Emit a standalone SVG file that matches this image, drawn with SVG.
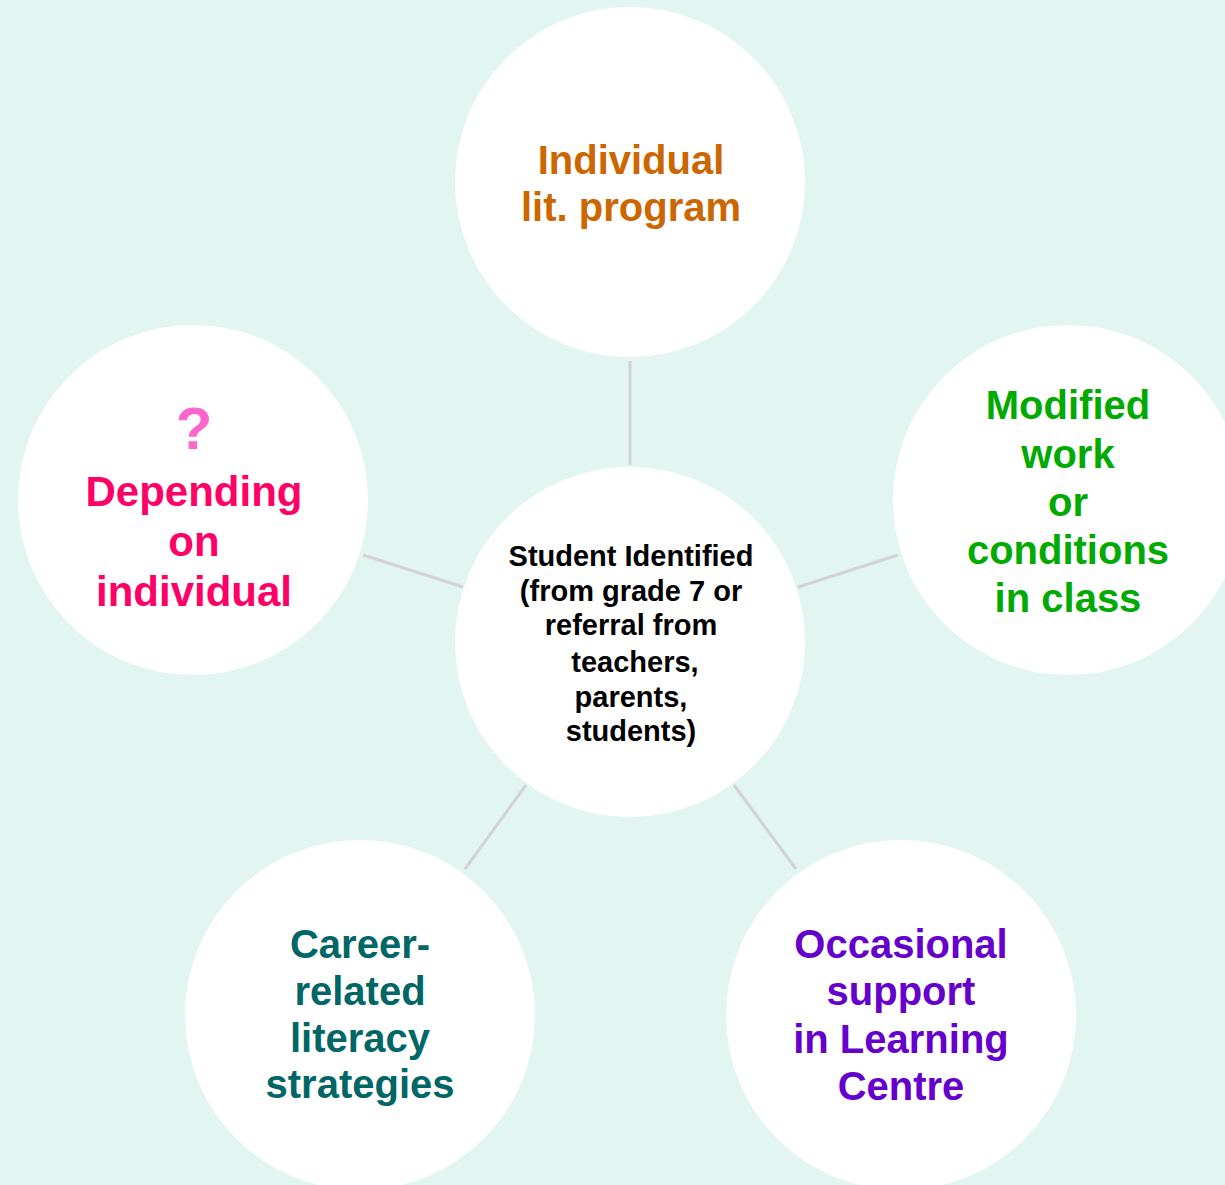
<svg xmlns="http://www.w3.org/2000/svg" width="1225" height="1185" viewBox="0 0 1225 1185">
<style>
.bg{fill:#E2F5F0}
.node{fill:#FFFFFF}
.conn{stroke:#D3D3D3;stroke-width:3;fill:none}
text{font-family:"Liberation Sans",Arial,sans-serif;font-weight:bold;text-anchor:middle}
.big{font-size:40px}
.mid{font-size:29px;fill:#000000}
</style>
<rect class="bg" x="0" y="0" width="1225" height="1185"/>
<g id="connectors">
<line class="conn" x1="630" y1="361" x2="630" y2="465"/>
<line class="conn" x1="363" y1="555" x2="463" y2="587"/>
<line class="conn" x1="798" y1="587" x2="898" y2="555"/>
<line class="conn" x1="526" y1="785" x2="465" y2="869"/>
<line class="conn" x1="734" y1="785" x2="796" y2="869"/>
</g>
<g id="center">
<circle class="node" cx="630" cy="642" r="175"/>
<text class="mid" x="631" y="566">Student Identified</text>
<text class="mid" x="631" y="601">(from grade 7 or</text>
<text class="mid" x="631" y="635">referral from</text>
<text class="mid" x="635" y="672">teachers,</text>
<text class="mid" x="631" y="707">parents,</text>
<text class="mid" x="631" y="741">students)</text>
</g>
<g id="top">
<circle class="node" cx="630" cy="182" r="175"/>
<text class="big" x="631" y="174" fill="#CC6600">Individual</text>
<text class="big" x="631" y="221" fill="#CC6600">lit. program</text>
</g>
<g id="left">
<circle class="node" cx="193" cy="500" r="175"/>
<text x="194" y="449" font-size="60" fill="#FF66CC">?</text>
<text x="194" y="506" font-size="42" fill="#FF0066">Depending</text>
<text x="194" y="556" font-size="42" fill="#FF0066">on</text>
<text x="194" y="606" font-size="42" fill="#FF0066">individual</text>
</g>
<g id="right">
<circle class="node" cx="1068" cy="500" r="175"/>
<text class="big" x="1068" y="419" fill="#00AA00">Modified</text>
<text class="big" x="1068" y="468" fill="#00AA00">work</text>
<text class="big" x="1068" y="516" fill="#00AA00">or</text>
<text class="big" x="1068" y="564" fill="#00AA00">conditions</text>
<text class="big" x="1068" y="612" fill="#00AA00">in class</text>
</g>
<g id="bottom-left">
<circle class="node" cx="360" cy="1015" r="175"/>
<text class="big" x="360" y="958" fill="#006666">Career-</text>
<text class="big" x="360" y="1005" fill="#006666">related</text>
<text class="big" x="360" y="1052" fill="#006666">literacy</text>
<text class="big" x="360" y="1098" fill="#006666">strategies</text>
</g>
<g id="bottom-right">
<circle class="node" cx="901" cy="1015" r="175"/>
<text class="big" x="901" y="958" fill="#6600CC">Occasional</text>
<text class="big" x="901" y="1005" fill="#6600CC">support</text>
<text class="big" x="901" y="1053" fill="#6600CC">in Learning</text>
<text class="big" x="901" y="1100" fill="#6600CC">Centre</text>
</g>
</svg>
